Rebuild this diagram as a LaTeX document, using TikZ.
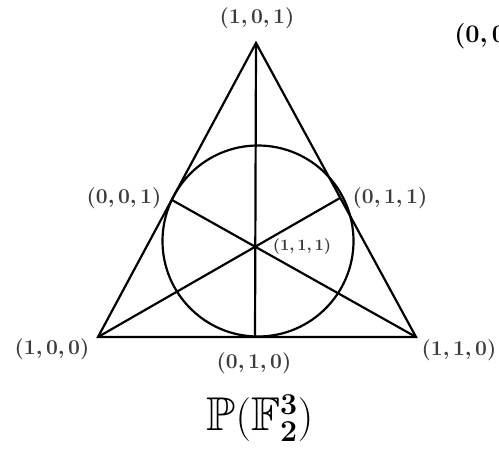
\documentclass[tikz,border=0pt]{standalone}
\usepackage{amsmath,amssymb,bm}
\usepackage{xcolor}
\usepackage{tikz}
\definecolor{label-gray}{RGB}{60,60,60}

\begin{document}
\begin{tikzpicture}[x=0.02cm, y=-0.02cm,
  line/.style={line width=1.25pt, black},
  pt/.style={font=\fontsize{12.5}{15}\selectfont, text=label-gray, inner sep=1pt}]
  \useasboundingbox (0,0) rectangle (499,450);

  % points of the plane
  \coordinate (p101) at (256,43);
  \coordinate (p100) at (98,337);
  \coordinate (p110) at (416,337);
  \coordinate (p001) at (172,200);
  \coordinate (p011) at (340,198);
  \coordinate (p010) at (255,337);
  \coordinate (p111) at (255,245);

  % lines
  \draw[line] (p101) -- (p100) -- (p110) -- cycle;
  \draw[line] (p101) -- (p010);
  \draw[line] (p100) -- (p011);
  \draw[line] (p110) -- (p001);
  \draw[line] (258,241) circle (95.5);

  % labels
  \node[pt] (l101) at (257,18) {$\boldsymbol{(1,0,1)}$};
  \node[pt] (l001) at (124,198) {$\boldsymbol{(0,0,1)}$};
  \node[pt] (l011) at (390,198) {$\boldsymbol{(0,1,1)}$};
  \node[pt, font=\fontsize{9}{11}\selectfont] (l111) at (302,247) {$\boldsymbol{(1,1,1)}$};
  \node[pt] (l100) at (52,349) {$\boldsymbol{(1,0,0)}$};
  \node[pt] (l010) at (254,363) {$\boldsymbol{(0,1,0)}$};
  \node[pt] (l110) at (459,350) {$\boldsymbol{(1,1,0)}$};
  \node[anchor=west, inner sep=0pt, font=\fontsize{15.5}{19}\selectfont] (l000) at (454,36) {$\boldsymbol{(0,0,0)}$};

  % title
  \node[font=\fontsize{27}{32}\selectfont] (title) at (260,418)
    {$\mathbb{P}(\mathbb{F}_{\mathbf{2}}^{\mathbf{3}})$};
\end{tikzpicture}
\end{document}
